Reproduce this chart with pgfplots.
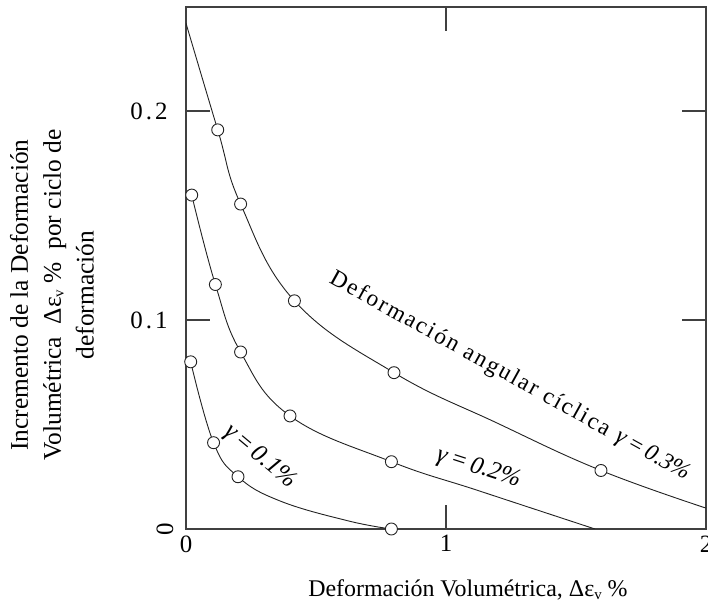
\documentclass[border=0pt]{standalone}
\usepackage{pgfplots}
\pgfplotsset{compat=1.18}
\usepackage{fontspec}
\setmainfont{Liberation Serif}
\definecolor{axisgray}{HTML}{404040}
\definecolor{curve}{HTML}{222222}
\begin{document}
\begin{tikzpicture}
\begin{axis}[
  at={(186bp,74bp)}, anchor=south west,
  scale only axis, width=520bp, height=522bp,
  xmin=0, xmax=2, ymin=0, ymax=0.2498,
  axis line style={line width=1.3bp, color=axisgray},
  xtick={0,1,2}, xticklabels={0,1,2},
  ytick={0.1,0.2}, yticklabels={{0\kern3bp.\kern3bp1},{0\kern3bp.\kern3bp2}},
  tick align=inside, major tick length=24bp,
  tick style={line width=1.3bp, color=axisgray},
  ticklabel style={font=\fontsize{25}{28}\selectfont},
  yticklabel style={xshift=-15bp},
  xticklabel style={yshift=-3bp},
  clip=true,
]
% gamma = 0.3
\addplot[curve, line width=0.9bp, smooth, tension=0.7] coordinates {
 (0,0.242) (0.122,0.191) (0.21,0.1555) (0.417,0.1092) (0.80,0.0748) (1.2,0.0505) (1.596,0.028) (2.0,0.010)};
% gamma = 0.2
\addplot[curve, line width=0.9bp, smooth, tension=0.7] coordinates {
 (0.022,0.1598) (0.113,0.117) (0.21,0.0847) (0.40,0.0541) (0.79,0.0322) (1.131,0.0181) (1.573,0.0)};
% gamma = 0.1
\addplot[curve, line width=0.9bp, smooth, tension=0.7] coordinates {
 (0.018,0.080) (0.106,0.0413) (0.2,0.025) (0.36,0.0135) (0.62,0.0040) (0.79,0.0)};
% data points
\addplot[only marks, mark=*, mark size=6bp, mark options={fill=white, draw=curve, line width=0.9bp}] coordinates {
 (0.122,0.191) (0.21,0.1555) (0.417,0.1092) (0.80,0.0748) (1.596,0.028)};
\addplot[only marks, mark=*, mark size=6bp, mark options={fill=white, draw=curve, line width=0.9bp}] coordinates {
 (0.022,0.1598) (0.113,0.117) (0.21,0.0847) (0.40,0.0541) (0.79,0.0322)};
\addplot[only marks, mark=*, mark size=6bp, mark options={fill=white, draw=curve, line width=0.9bp}] coordinates {
 (0.018,0.080) (0.106,0.0413) (0.2,0.025) (0.79,0.0)};
% curve labels
\node[rotate=-29, font=\fontsize{23.5}{27}\selectfont] at (axis cs:1.245,0.0730)
  {{\addfontfeature{LetterSpace=9}Deformación angular cíclica}\, \textit{γ\,=\,0.3\%}};
\node[rotate=-18, font=\fontsize{25}{28}\selectfont] at (axis cs:1.125,0.029)
  {\textit{γ\,=\,0.2\%}};
\node[rotate=-40, font=\fontsize{25}{28}\selectfont] at (axis cs:0.285,0.0345)
  {\textit{γ\,=\,0.1\%}};
\end{axis}
% rotated zero on y axis
\node[rotate=90, font=\fontsize{25}{28}\selectfont] at (165bp,74bp) {0};
% axis labels
\node[font=\fontsize{24}{28}\selectfont] at (468bp,13bp)
  {Deformación Volumétrica, Δε\raisebox{-0.25ex}{\fontsize{15}{17}\selectfont v} \%};
\node[rotate=90, align=center, font=\fontsize{25.5}{33}\selectfont] at (52bp,308bp)
  {Incremento de la Deformación\\Volumétrica~ Δε\raisebox{-0.25ex}{\fontsize{15}{17}\selectfont v} \%~ por ciclo de\\deformación};
\pgfresetboundingbox
\path[use as bounding box] (0,0) rectangle (708bp,603bp);
\end{tikzpicture}
\end{document}
